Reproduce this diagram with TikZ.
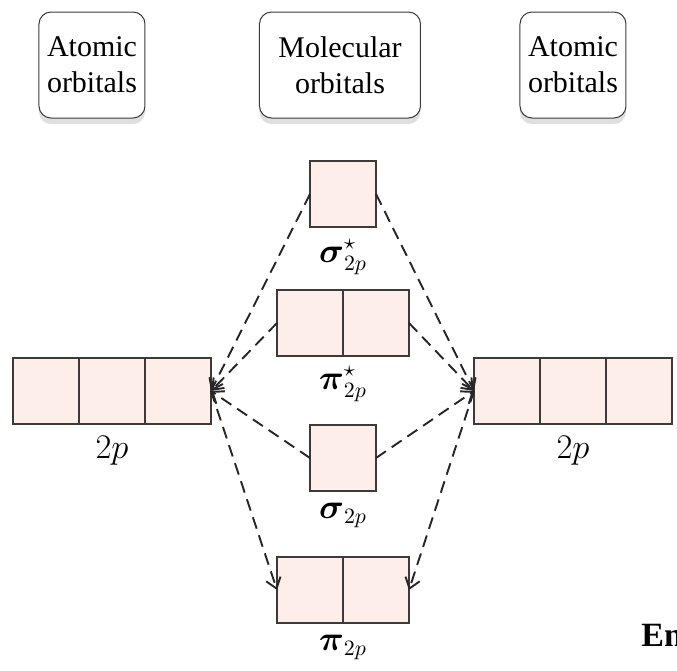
\documentclass[tikz,border=0pt]{standalone}
\usepackage{amsmath,amssymb}
\usepackage{fontspec}
\setmainfont{Liberation Serif}
\usepackage{tikz}
\usetikzlibrary{arrows.meta,positioning,shadows}
\definecolor{orbpink}{RGB}{253,238,234}
\definecolor{orbgray}{RGB}{62,58,58}

\begin{document}
\begin{tikzpicture}[
    x=0.5pt,y=-0.5pt,
    node distance=0pt,
    cell/.style={rectangle,draw=orbgray,fill=orbpink,line width=0.9pt,minimum size=33pt,inner sep=0pt,outer sep=0pt},
    head/.style={rectangle,rounded corners=6pt,draw=orbgray,fill=white,line width=0.5pt,minimum height=53pt,align=center,font=\fontsize{15}{18}\selectfont,drop shadow={shadow xshift=0pt,shadow yshift=-3pt,opacity=0.25}},
    lbl/.style={font=\fontsize{16}{19}\selectfont,inner sep=1pt},
    link/.style={dash pattern=on 6pt off 3.5pt,line width=0.95pt,draw=black!85},
    arrow/.style={link,-{Straight Barb[length=5pt,width=7.5pt]}}
]
\useasboundingbox (0,0) rectangle (677,671);
\clip (0,0) rectangle (677,671);

% header boxes
\node[head,minimum width=53pt] (hl) at (92,65) {Atomic\\orbitals};
\node[head,minimum width=80.5pt] (hm) at (340,65) {Molecular\\orbitals};
\node[head,minimum width=53pt] (hr) at (573,65) {Atomic\\orbitals};

% atomic orbitals, left
\node[cell] (l1) at (46,391) {};
\node[cell,right=of l1] (l2) {};
\node[cell,right=of l2] (l3) {};
\node[lbl,below=5pt of l2] (l2p) {$2p$};

% atomic orbitals, right
\node[cell] (r1) at (507,391) {};
\node[cell,right=of r1] (r2) {};
\node[cell,right=of r2] (r3) {};
\node[lbl,below=5pt of r2] (r2p) {$2p$};

% molecular orbitals
\node[cell] (ss) at (343,194) {};
\node[lbl,below=5pt of ss] (ssl) {$\boldsymbol{\sigma}^{\star}_{2p}$};
\node[cell] (pa1) at (310,323) {};
\node[cell,right=of pa1] (pa2) {};
\node[lbl,below=4pt of pa1.south east] (pal) {$\boldsymbol{\pi}^{\star}_{2p}$};
\node[cell] (sg) at (343,458) {};
\node[lbl,below=5pt of sg] (sgl) {$\boldsymbol{\sigma}_{2p}$};
\node[cell] (pb1) at (310,590) {};
\node[cell,right=of pb1] (pb2) {};
\node[lbl,below=5pt of pb1.south east] (pbl) {$\boldsymbol{\pi}_{2p}$};

\node[anchor=base west,inner sep=1pt,font=\fontsize{17}{20}\selectfont\bfseries] (en) at (639,646) {Energy};

% connectors
\draw[arrow] (ss.west) -- (l3.east);
\draw[arrow] (pa1.west) -- (l3.east);
\draw[arrow] (sg.west) -- (l3.east);
\draw[arrow] (l3.east) -- (pb1.west);
\draw[arrow] (ss.east) -- (r1.west);
\draw[arrow] (pa2.east) -- (r1.west);
\draw[arrow] (sg.east) -- (r1.west);
\draw[arrow] (r1.west) -- (pb2.east);
\end{tikzpicture}
\end{document}
